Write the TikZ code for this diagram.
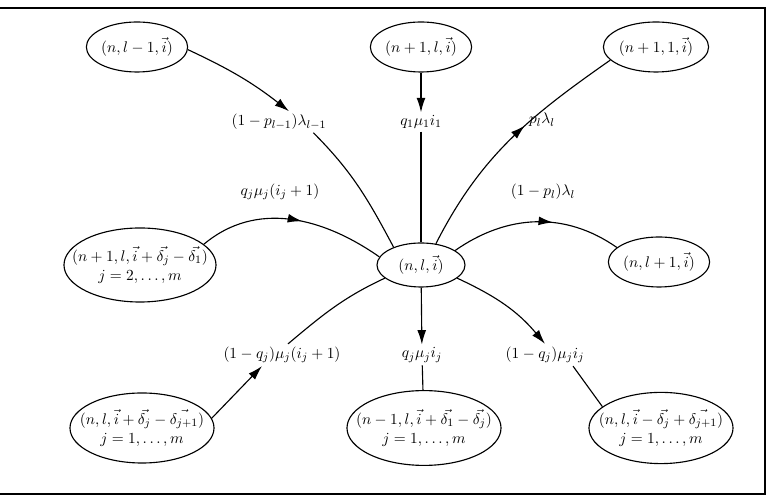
\documentclass[tikz,border=0pt,11pt]{standalone}
\usepackage{amsmath, amssymb}
\usepackage{tikz}
\usetikzlibrary{shapes.geometric, arrows.meta, decorations.markings}

\begin{document}
\begin{tikzpicture}[
  st/.style={ellipse, draw, thick, minimum width=2.5cm, minimum height=1.25cm, inner sep=0pt},
  bigst/.style={st, align=center, inner xsep=-6mm, minimum width=3.6cm, minimum height=1.85cm},
  rate/.style={inner sep=2pt},
  arr/.style={thick, -{Latex[length=3.6mm, width=2.2mm]}},
  midarr/.style={thick, postaction={decorate}, decoration={markings,
      mark=at position #1 with {\arrow{Latex[length=3.6mm, width=2.2mm]}}}},
  x=0.025cm, y=0.025cm
]
  \useasboundingbox (0,0) rectangle (771,498);

  % Frame
  \draw[line width=1.2pt] (0,490) -- (765,490) -- (765,4) -- (0,4);

  %--- Top row ---
  \node[st] (a) at (137,451) {$(n,l-1,\vec{i})$};
  \node[st, minimum width=2.45cm] (b) at (421,451) {$(n+1,l,\vec{i})$};
  \node[st] (c) at (656,451) {$(n+1,1,\vec{i})$};

  %--- Middle row ---
  \node[bigst, minimum width=3.8cm] (w) at (140,233)
    {$(n+1,l,\vec{i}+\vec{\delta_j}-\vec{\delta_1})$\\$j=2,\ldots,m$};
  \node[st, minimum width=2.2cm, minimum height=1.1cm] (ctr) at (421,233) {$(n,l,\vec{i})$};
  \node[st] (e) at (659,236) {$(n,l+1,\vec{i})$};

  %--- Bottom row ---
  \node[bigst, minimum width=3.6cm, minimum height=1.75cm] (sw) at (142,70)
    {$(n,l,\vec{i}+\vec{\delta_j}-\vec{\delta_{j+1}})$\\$j=1,\ldots,m$};
  \node[bigst, minimum width=3.85cm, minimum height=1.87cm] (s) at (424,70)
    {$(n-1,l,\vec{i}+\vec{\delta_1}-\vec{\delta_j})$\\$j=1,\ldots,m$};
  \node[bigst, minimum width=3.6cm, minimum height=1.78cm] (se) at (661,70)
    {$(n,l,\vec{i}-\vec{\delta_j}+\vec{\delta_{j+1}})$\\$j=1,\ldots,m$};

  %--- Rates ---
  \node[rate] (r1) at (279,376) {$(1-p_{l-1})\lambda_{l-1}$};
  \node[rate] (r2) at (421,376) {$q_1\mu_1 i_1$};
  \node[rate] (r3) at (542,378) {$p_l\lambda_l$};
  \node[rate] (r4) at (280,306) {$q_j\mu_j(i_j+1)$};
  \node[rate] (r5) at (543,306) {$(1-p_l)\lambda_l$};
  \node[rate] (r6) at (282,143) {$(1-q_j)\mu_j(i_j+1)$};
  \node[rate] (r7) at (422,143) {$q_j\mu_j i_j$};
  \node[rate] (r8) at (545,143) {$(1-q_j)\mu_j i_j$};

  % Edges
  \draw[arr] (a.-3) to[out=-25, in=142] ([xshift=2.5mm]r1.north);
  \draw[thick] ([xshift=-4mm]r1.south east) to[out=-45, in=118] (ctr.147);
  \draw[arr] (b) -- (r2);
  \draw[thick] (r2) -- (ctr);
  \draw[midarr=0.58] (ctr.55) to[out=63, in=215] (c.196);
  \draw[midarr=0.55] (w.18) to[out=40, in=145] (ctr.169);
  \draw[midarr=0.6] (ctr.23) to[out=35, in=145] (e.161);
  \draw[arr] (sw.8) -- ([xshift=-5mm]r6.south);
  \draw[thick] ([xshift=1.5mm]r6.north) to[out=40, in=205] (ctr.200);
  \draw[arr] (ctr) -- (r7);
  \draw[thick] (r7) -- (s);
  \draw[arr] (ctr.-20) to[out=-25, in=130] (r8.north);
  \draw[thick] ([xshift=7mm]r8.south) -- (se.160);
\end{tikzpicture}
\end{document}
